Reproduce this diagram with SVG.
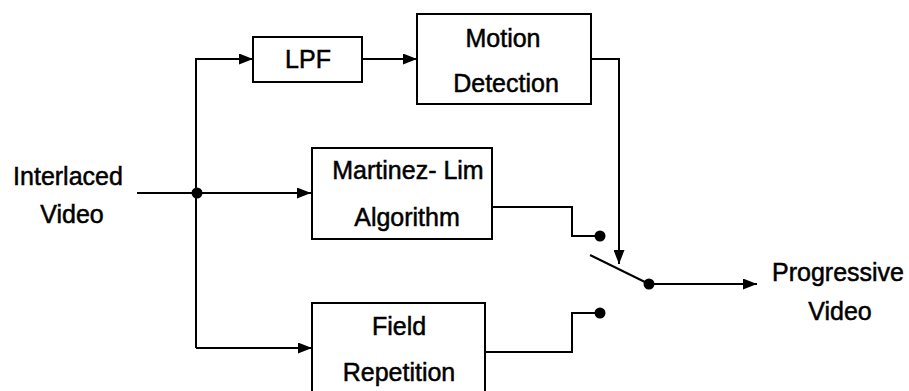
<svg xmlns="http://www.w3.org/2000/svg" width="909" height="391" viewBox="0 0 909 391">
  <style>
    .box { fill: #ffffff; stroke: #000000; stroke-width: 2; }
    .wire { fill: none; stroke: #000000; stroke-width: 2; }
    .dot { fill: #000000; }
    text { font-family: "Liberation Sans", Arial, sans-serif; font-size: 25px; fill: #000000; stroke: #000000; stroke-width: 0.5; text-anchor: middle; }
  </style>
  <defs>
    <marker id="arrow" viewBox="0 0 14 11" refX="14" refY="5.5" markerWidth="14" markerHeight="11" markerUnits="userSpaceOnUse" orient="auto">
      <path d="M0,0 L14,5.5 L0,11 Z" fill="#000000"/>
    </marker>
  </defs>

  <rect width="909" height="391" fill="#ffffff"/>

  <!-- signal wiring -->
  <g id="connectors">
    <!-- input and fan-out -->
    <path class="wire" d="M137,193 H311" marker-end="url(#arrow)"/>
    <path class="wire" d="M196,348 V59 H253" marker-end="url(#arrow)"/>
    <path class="wire" d="M196,348 H312" marker-end="url(#arrow)"/>
    <!-- LPF to motion detection -->
    <path class="wire" d="M362,59 H417" marker-end="url(#arrow)"/>
    <!-- motion detection drives the switch -->
    <path class="wire" d="M591,59 H619 V264" marker-end="url(#arrow)"/>
    <!-- Martinez-Lim output to upper contact -->
    <path class="wire" d="M492,207 H572 V236 H600"/>
    <!-- field repetition output to lower contact -->
    <path class="wire" d="M485,352 H572 V313 H600"/>
    <!-- switch blade and output -->
    <path class="wire" d="M590,255 L649,284"/>
    <path class="wire" d="M649,284 H757" marker-end="url(#arrow)"/>
    <!-- junctions and contacts -->
    <circle class="dot" cx="197" cy="193" r="5.5"/>
    <circle class="dot" cx="600" cy="236" r="5.5"/>
    <circle class="dot" cx="600" cy="313" r="5.5"/>
    <circle class="dot" cx="649" cy="284" r="5.5"/>
  </g>

  <g id="input-label">
    <text x="68" y="185">Interlaced</text>
    <text x="72" y="223">Video</text>
  </g>

  <g id="lpf">
    <rect class="box" x="253" y="37" width="109" height="45"/>
    <text x="308" y="68">LPF</text>
  </g>

  <g id="motion-detection">
    <rect class="box" x="417" y="14" width="174" height="90"/>
    <text x="503" y="47">Motion</text>
    <text x="506" y="92">Detection</text>
  </g>

  <g id="martinez-lim">
    <rect class="box" x="312" y="148" width="180" height="91"/>
    <text x="408" y="179">Martinez- Lim</text>
    <text x="407" y="226">Algorithm</text>
  </g>

  <g id="field-repetition">
    <rect class="box" x="312" y="303" width="173" height="95"/>
    <text x="399" y="335">Field</text>
    <text x="399" y="381">Repetition</text>
  </g>

  <g id="output-label">
    <text x="838" y="281">Progressive</text>
    <text x="840" y="320">Video</text>
  </g>
</svg>
